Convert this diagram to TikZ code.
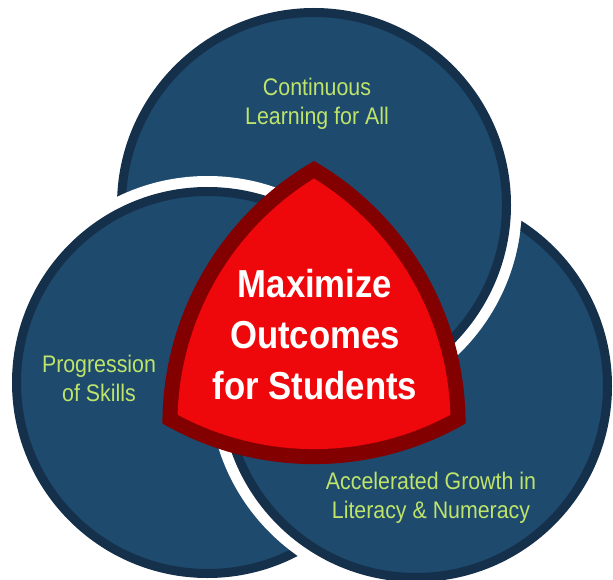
\documentclass[tikz,border=0pt]{standalone}
\usepackage{fontspec}
\setmainfont{Liberation Sans}[FakeStretch=0.89]
\usepackage{tikz}

\definecolor{discblue}{HTML}{1E4A6E}
\definecolor{rimblue}{HTML}{15304A}
\definecolor{shieldred}{HTML}{EE080C}
\definecolor{rimred}{HTML}{830000}
\definecolor{labelgreen}{RGB}{190,228,106}

% one disc: white gap, dark rim, blue fill
\newcommand{\venndisc}[2]{%
  \fill[white] (#1) circle[radius=#2+11];
  \draw[rimblue, fill=discblue, line width=9pt] (#1) circle[radius=#2-4.5];}
% reuleaux triangle on (bl): #1 = arc radius, #2 = angle cut off each arc end
\newcommand{\reuleaux}[2]{(bl) ++(60-#2:#1)
  arc[start angle=60-#2, end angle=#2, radius=#1]
  arc[start angle=-60-#2, end angle=-120+#2, radius=#1]
  arc[start angle=180-#2, end angle=120+#2, radius=#1] -- cycle}

\begin{document}
\begin{tikzpicture}[x=1pt, y=1pt,
    greentext/.style={text=labelgreen, align=center, font=\fontsize{24}{29}\selectfont},
    goaltext/.style={text=white, align=center, font=\fontsize{39}{51}\selectfont\bfseries}]
  \clip (0,0) rectangle (613,579);
  \coordinate (topdisc) at (314,374);
  \coordinate (leftdisc) at (207.5,196.5);
  \coordinate (rightdisc) at (416,193);
  \coordinate (bl) at (162.45,155.5);

  % top under left
  \venndisc{topdisc}{197}
  \venndisc{leftdisc}{195.5}
  % right over left but under top: keep it out of the top disc
  \begin{scope}
    \clip (-5,-5) -- (-5,590) -- (620,590) -- (620,-5) -- cycle
      (topdisc) ++(208,0) arc[start angle=0, end angle=360, radius=208];
    \venndisc{rightdisc}{196}
  \end{scope}

  % shield in the middle
  \fill[rimred] \reuleaux{303.1}{0};
  \fill[shieldred] \reuleaux{288.1}{1.74};

  \node[greentext] (cont) at (317,475) {Continuous\\Learning for All};
  \node[greentext] (prog) at (99,201) {Progression\\of Skills};
  \node[greentext] (accel) at (431,81) {Accelerated Growth in\\Literacy \& Numeracy};
  \node[goaltext] (goal) at (315,244) {Maximize\\Outcomes\\for Students};
\end{tikzpicture}
\end{document}
